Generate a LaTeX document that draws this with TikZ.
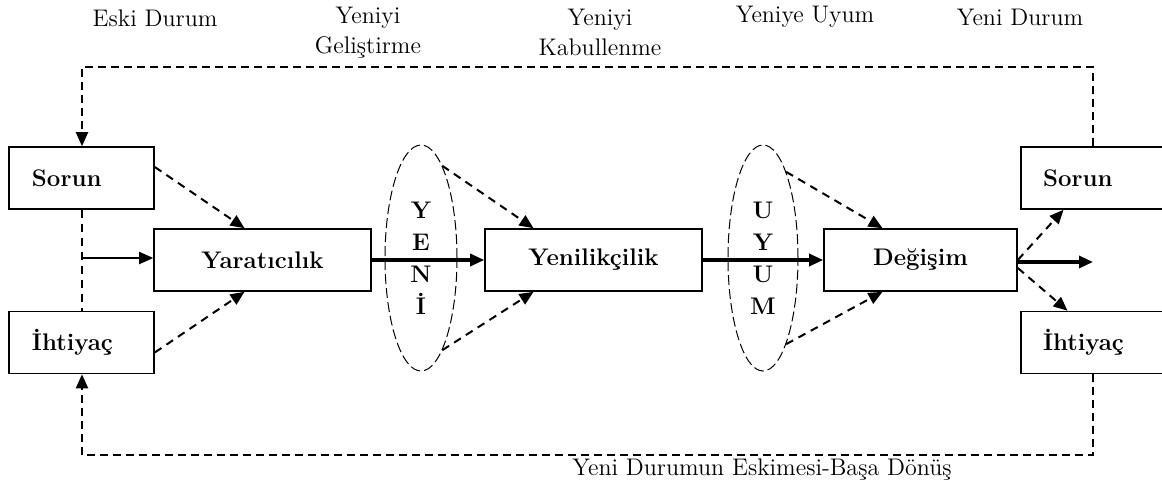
\documentclass[tikz,border=0pt]{standalone}
\usepackage{fontspec}
\usetikzlibrary{shapes.geometric,arrows.meta}
\tikzset{every picture/.style={x=.5pt,y=-.5pt}}
\tikzset{box/.style={rectangle,draw,line width=.8pt,minimum width=108.5pt,minimum height=31pt,font=\large\bfseries}}
\tikzset{sidebox/.style={rectangle,draw,line width=.8pt,minimum height=31pt,align=left,font=\large\bfseries}}
\tikzset{oval/.style={ellipse,draw,line width=.5pt,dash pattern=on 5pt off 2pt,minimum width=36pt,minimum height=113pt,inner sep=0pt,align=center,font=\fontsize{12}{16}\selectfont\bfseries}}
\tikzset{lbl/.style={align=center,font=\fontsize{12}{15}\selectfont}}
\tikzset{edge/.style={-{Triangle[length=7pt,width=6pt]}}}
\tikzset{frame/.style={line width=1pt,dash pattern=on 4pt off 2.5pt}}
\tikzset{soft/.style={line width=1pt,dash pattern=on 4pt off 3pt}}
\tikzset{thick arrow/.style={line width=1.6pt}}

\begin{document}
\begin{tikzpicture}
\useasboundingbox (0,0) rectangle (1162,492);

\node [lbl] (eski) at (155,18) {Eski Durum};
\node [lbl] (gelis) at (368,33) {Yeniyi\\Geliştirme};
\node [lbl] (kabul) at (600,32) {Yeniyi\\Kabullenme};
\node [lbl] (uyumlbl) at (805,17) {Yeniye Uyum};
\node [lbl] (yenidurum) at (1020,17) {Yeni Durum};
\node [lbl] (donus) at (762,470) {Yeni Durumun Eskimesi-Başa Dönüş};

\node [sidebox,text width=49.5pt,inner xsep=11.5pt] (sorunL) at (81.5,178) {Sorun};
\node [sidebox,text width=49.5pt,inner xsep=11.5pt] (ihtiyacL) at (81.5,342.5) {İhtiyaç};
\node [sidebox,text width=50.5pt,inner xsep=11pt] (sorunR) at (1093.5,178) {Sorun};
\node [sidebox,text width=50.5pt,inner xsep=11pt] (ihtiyacR) at (1093.5,342.5) {İhtiyaç};

\node [box] (yaratici) at (262.5,260) {Yaratıcılık};
\node [box] (yenilik) at (593.5,260) {Yenilikçilik};
\node [box,minimum width=96.5pt] (degisim) at (920.5,260) {Değişim};

\node [oval] (yeni) at (421,258) {Y\\E\\N\\İ};
\node [oval,minimum width=35pt] (uyum) at (763,258) {U\\Y\\U\\M};

\coordinate (tl) at (82,67);
\coordinate (tr) at (1093,67);
\coordinate (bl) at (82,455);
\coordinate (br) at (1093,455);
\coordinate (j) at (82,258);
\coordinate (out) at (1093,262);

% feedback frame
\draw [frame,edge] (sorunR.north -| tr) -- (tr) -- (tl) -- (tl |- sorunL.north);
\draw [frame,edge] (ihtiyacR.south -| br) -- (br) -- (bl) -- (bl |- ihtiyacL.south);

\draw [line width=.8pt,dash pattern=on 4pt off 3pt] (sorunL.south -| j) -- (ihtiyacL.north -| j);
\draw [line width=1pt,edge] (j) -- (j -| yaratici.west);

\draw [soft,edge] ([yshift=5.5pt]sorunL.east) -- ([xshift=-9pt]yaratici.north);
\draw [soft,edge] ([yshift=-5pt]ihtiyacL.east) -- ([xshift=-9pt]yaratici.south);

\draw [thick arrow,edge] (yaratici.east) -- (yenilik.west);
\draw [soft,edge] (yeni.77) -- ([xshift=-30pt]yenilik.north);
\draw [soft,edge] (yeni.-77) -- ([xshift=-30pt]yenilik.south);

\draw [thick arrow,edge] (yenilik.east) -- (degisim.west);
\draw [soft,edge] (uyum.75) -- ([xshift=-19pt]degisim.north);
\draw [soft,edge] (uyum.-75) -- ([xshift=-19pt]degisim.south);

\draw [soft,edge] (degisim.east) -- ([xshift=-15pt]sorunR.south);
\draw [thick arrow,edge] ([yshift=-1pt]degisim.east) -- (out);
\draw [soft,edge] ([yshift=-4pt]degisim.east) -- ([xshift=-13pt]ihtiyacR.north);
\end{tikzpicture}
\end{document}
